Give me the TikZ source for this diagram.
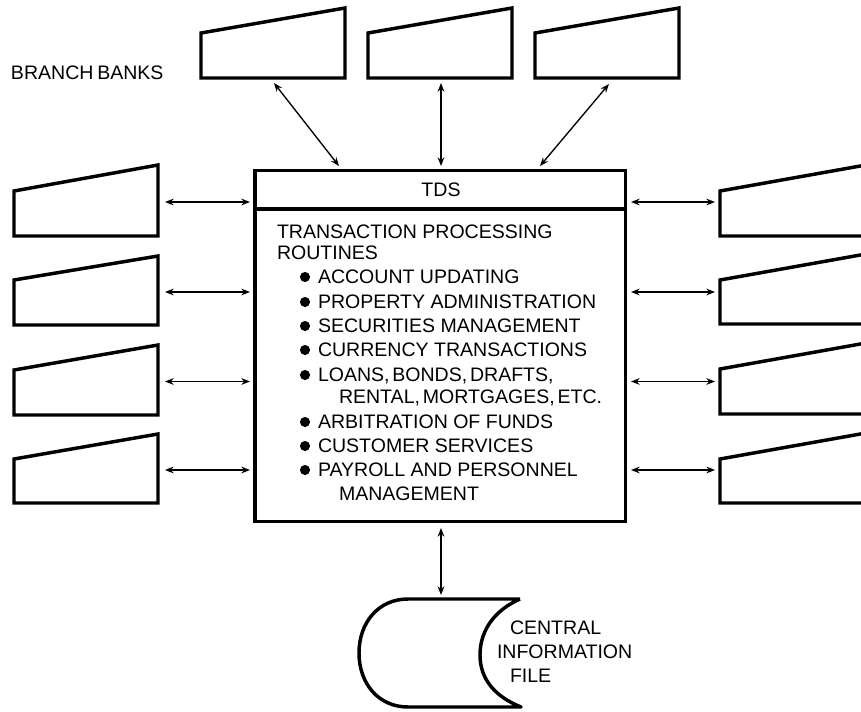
\documentclass[tikz,border=0pt]{standalone}
\usepackage{fontspec}
\setmainfont{Liberation Sans}
\usetikzlibrary{arrows.meta}
\tikzset{
  x=0.75pt,y=-0.75pt,
  heavy/.style={draw=black,line width=2.6pt,line join=miter},
  link/.style={draw=black,line width=1pt,{Stealth[length=6.5pt,width=5pt]}-{Stealth[length=6.5pt,width=5pt]}},
  label/.style={anchor=base west,inner sep=0pt,outer sep=0pt,font=\fontsize{14.65}{16}\selectfont},
  dot/.style={fill=black,draw=none},
}
\newcommand{\bankshape}[4]{\draw[heavy] (#1,#2) -- (#1+144,#3) -- (#1+144,#4) -- (#1,#4) -- cycle;}
\newcommand{\openbank}[4]{\draw[heavy] (#1+160,#3-3.5) -- (#1,#2) -- (#1,#4) -- (#1+160,#4);}
\begin{document}
\begin{tikzpicture}
\useasboundingbox (0,0) rectangle (861,711);
\clip (0,0) rectangle (861,711);
% branch banks: top row
\bankshape{201}{33}{8}{78}
\bankshape{368}{33}{8}{78}
\bankshape{535}{33}{8}{78}
% left column
\bankshape{14}{191}{165}{236}
\bankshape{14}{280}{256}{325}
\bankshape{14}{370}{345}{415}
\bankshape{14}{459}{434}{503}
% right column
\openbank{720}{191}{166}{236}
\openbank{720}{280}{255}{324}
\openbank{720}{369}{344}{414}
\openbank{720}{459}{434}{503}
% central box
\node[heavy,rectangle,inner sep=0pt,outer sep=0pt,minimum width=277.9pt,minimum height=263.2pt,anchor=north west] (tds) at (255,170.5) {};
\draw[heavy] (255,209) -- (625.5,209);
% connector ends
\coordinate (ta) at (274,83); \coordinate (tb) at (339,166);
\coordinate (ua) at (441,83); \coordinate (ub) at (441,166);
\coordinate (va) at (609,84); \coordinate (vb) at (540,166);
\foreach \n/\y in {a/202,b/292,c/381.5,d/470}{
  \coordinate (l\n1) at (165,\y); \coordinate (l\n2) at (250,\y);
  \coordinate (r\n1) at (631,\y); \coordinate (r\n2) at (715,\y);
  \draw[link] (l\n1) -- (l\n2);
  \draw[link] (r\n1) -- (r\n2);
}
\draw[link] (ta) -- (tb);
\draw[link] (ua) -- (ub);
\draw[link] (va) -- (vb);
\coordinate (fa) at (441,528); \coordinate (fb) at (441,595);
\draw[link] (fa) -- (fb);
% central information file
\draw[heavy,line join=round] (520,599) -- (408,599) .. controls (378,599) and (359,623) .. (359,653) .. controls (359,683) and (378,707) .. (408,707) -- (521,707)
  .. controls (496,697) and (480,680) .. (480,655) .. controls (480,630) and (495,610) .. (520,599);
% texts
\node[label] (bb) at (11,79) {BRANCH\kern-1.2pt\ BANKS};
\node[inner sep=0pt,anchor=base,font=\fontsize{14.65}{16}\selectfont] (tt) at (441,196) {TDS};
\node[label] (t1) at (277,238) {TRANSACTION PROCESSING};
\node[label] (t2) at (277,259) {ROUTINES};
\node[label] (i1) at (318,283) {ACCOUNT UPDATING};
\node[label] (i2) at (318,308) {PROPERTY ADMINISTRATION};
\node[label] (i3) at (318,332) {SECURITIES MANAGEMENT};
\node[label] (i4) at (318,356) {CURRENCY TRANSACTIONS};
\node[label] (i5) at (318,381) {LOANS,\kern-2pt\ BONDS,\kern-2pt\ DRAFTS,};
\node[label] (i6) at (339,403) {RENTAL,\kern-2pt\ MORTGAGES,\kern-2pt\ ETC.};
\node[label] (i7) at (318,428) {ARBITRATION OF FUNDS};
\node[label] (i8) at (318,452) {CUSTOMER SERVICES};
\node[label] (i9) at (318,476) {PAYROLL AND PERSONNEL};
\node[label] (i10) at (339,500) {MANAGEMENT};
\foreach \y in {277,302,326,350,375,422,446,470}{
  \fill[dot] (305,\y) circle (3.8pt);
}
\node[label] (c1) at (510,634) {CENTRAL};
\node[label] (c2) at (497,658) {INFORMATION};
\node[label] (c3) at (510,682) {FILE};
\end{tikzpicture}
\end{document}
